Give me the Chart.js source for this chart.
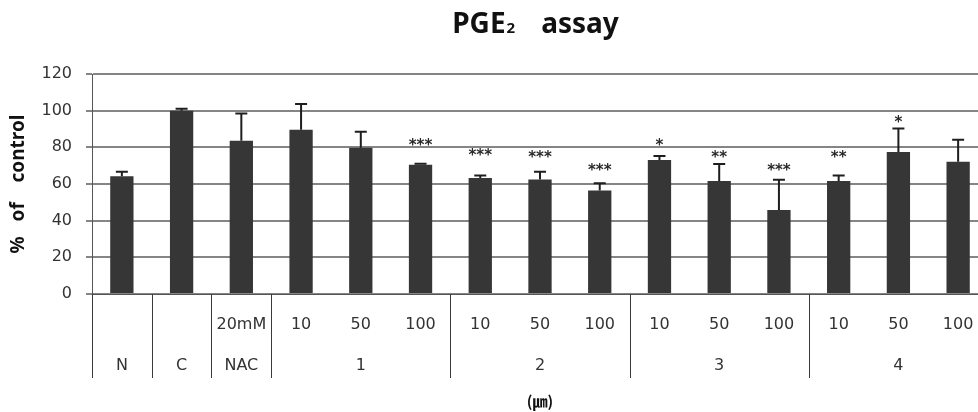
<!DOCTYPE html>
<html><head><meta charset="utf-8">
<script src="https://cdn.jsdelivr.net/npm/chart.js@4.4.1/dist/chart.umd.min.js"></script>
<style>
html,body{margin:0;padding:0;overflow:hidden;background:#fff;width:978px;height:412px}
#wrap{position:relative;width:1000px;height:412px}
</style></head>
<body><div id="wrap"><canvas id="c" width="1000" height="412"></canvas></div>
<script>
// ---- data ----
const doseLabels  = ["", "", "20mM", "10", "50", "100", "10", "50", "100", "10", "50", "100", "10", "50", "100"];
const groupLabels = ["N", "C", "NAC", "", "1", "", "", "2", "", "", "3", "", "", "4", ""];
const groupBounds = [0, 1, 2, 3, 6, 9, 12, 15];
const values      = [64.2, 100, 83.6, 89.6, 79.8, 70.5, 63.3, 62.5, 56.4, 73.1, 61.6, 45.8, 61.6, 77.5, 72.2];
const errors      = [2.5, 1.0, 14.8, 14.0, 8.7, 0.6, 1.4, 4.2, 4.0, 2.2, 9.3, 16.5, 3.1, 12.8, 12.0];
const stars       = ["", "", "", "", "", "***", "***", "***", "***", "*", "**", "***", "**", "*", ""];
const starLevels  = [null, null, null, null, null, 82.5, 77, 76, 68.4, 82.5, 76, 68.4, 76, 95, null];
const yTicks      = {min: 0, max: 120, step: 20};
const titleMain = "PGE", titleSub = "2", titleRest = "assay";
const yTitle = "%   of    control";
const unitLabel = "(\u339B)";

const FONT = "'DejaVu Sans', Verdana, sans-serif";

const extras = {
  id: 'extras',
  afterDatasetsDraw(chart) {
    const ctx = chart.ctx, xs = chart.scales.x, ys = chart.scales.y;
    ctx.save();
    // error bars (upper only)
    ctx.strokeStyle = '#1e1e1e';
    ctx.lineWidth = 2;
    values.forEach((v, i) => {
      const x = xs.getPixelForValue(i);
      const y0 = ys.getPixelForValue(v);
      const y1 = ys.getPixelForValue(v + errors[i]);
      ctx.beginPath();
      ctx.moveTo(x, y0); ctx.lineTo(x, y1);
      ctx.moveTo(x - 6, y1); ctx.lineTo(x + 6, y1);
      ctx.stroke();
    });
    // significance stars
    ctx.fillStyle = '#2a2a2a';
    ctx.font = "bold 15px " + FONT;
    ctx.textAlign = 'center';
    ctx.textBaseline = 'middle';
    stars.forEach((s, i) => {
      if (!s) return;
      ctx.fillText(s, xs.getPixelForValue(i), ys.getPixelForValue(starLevels[i]) + 3);
    });
    ctx.restore();
  },
  afterDraw(chart) {
    const ctx = chart.ctx, xs = chart.scales.x, ca = chart.chartArea;
    ctx.save();
    // group separators
    ctx.strokeStyle = '#3a3a3a';
    ctx.lineWidth = 1;
    groupBounds.forEach(k => {
      const x = Math.round(xs.getPixelForValue(k - 0.5)) + 0.5;
      ctx.beginPath();
      ctx.moveTo(x, ca.bottom); ctx.lineTo(x, ca.bottom + 84);
      ctx.stroke();
    });
    // group labels (second row)
    ctx.fillStyle = '#333';
    ctx.font = "16px " + FONT;
    ctx.textAlign = 'center';
    ctx.textBaseline = 'middle';
    groupLabels.forEach((g, i) => {
      if (!g) return;
      ctx.fillText(g, xs.getPixelForValue(i), ca.bottom + 72);
    });
    // unit label
    ctx.fillStyle = '#111';
    ctx.font = "bold 15px 'Noto Sans CJK KR', sans-serif";
    ctx.fillText(unitLabel, (ca.left + ca.right) / 2, ca.bottom + 107);
    // y title
    ctx.save();
    ctx.translate(19, (ca.top + ca.bottom) / 2);
    ctx.rotate(-Math.PI / 2);
    ctx.font = "bold 19px 'Noto Sans', sans-serif";
    ctx.fillStyle = '#111';
    ctx.fillText(yTitle, 0, 0);
    ctx.restore();
    // chart title
    ctx.font = "bold 28px 'Noto Sans', sans-serif";
    const w1 = ctx.measureText(titleMain).width;
    const w3 = ctx.measureText(titleRest).width;
    ctx.font = "bold 15px 'Noto Sans', sans-serif";
    const w2 = ctx.measureText(titleSub).width;
    const gap = 26;
    const total = w1 + w2 + gap + w3;
    let x = (ca.left + ca.right) / 2 - 5 - total / 2;
    const base = 33;
    ctx.textAlign = 'left';
    ctx.textBaseline = 'alphabetic';
    ctx.fillStyle = '#111';
    ctx.font = "bold 28px 'Noto Sans', sans-serif";
    ctx.fillText(titleMain, x, base); x += w1 + 1;
    ctx.font = "bold 15px 'Noto Sans', sans-serif";
    ctx.fillText(titleSub, x, base); x += w2 + gap;
    ctx.font = "bold 28px 'Noto Sans', sans-serif";
    ctx.fillText(titleRest, x, base);
    ctx.restore();
  }
};

new Chart(document.getElementById('c'), {
  type: 'bar',
  data: {
    labels: doseLabels,
    datasets: [{
      data: values,
      backgroundColor: '#363636',
      borderWidth: 0,
      barPercentage: 0.39,
      categoryPercentage: 1.0
    }]
  },
  options: {
    responsive: false,
    animation: false,
    devicePixelRatio: 1,
    layout: {padding: {top: 74, right: 12, left: 0, bottom: 0}},
    plugins: {legend: {display: false}, title: {display: false}, tooltip: {enabled: false}},
    scales: {
      x: {
        grid: {display: false, drawTicks: false},
        border: {display: true, color: '#555', width: 1},
        ticks: {font: {family: FONT, size: 16}, color: '#333', padding: 21, maxRotation: 0, autoSkip: false},
        afterFit(s) { s.height = 118; }
      },
      y: {
        min: yTicks.min, max: yTicks.max,
        ticks: {stepSize: yTicks.step, font: {family: FONT, size: 16}, color: '#333', padding: 14},
        grid: {color: '#858585', lineWidth: 2, tickLength: 6},
        border: {display: true, color: '#555', width: 1},
        afterFit(s) { s.width = 92; }
      }
    }
  },
  plugins: [extras]
});
</script>
</body></html>
